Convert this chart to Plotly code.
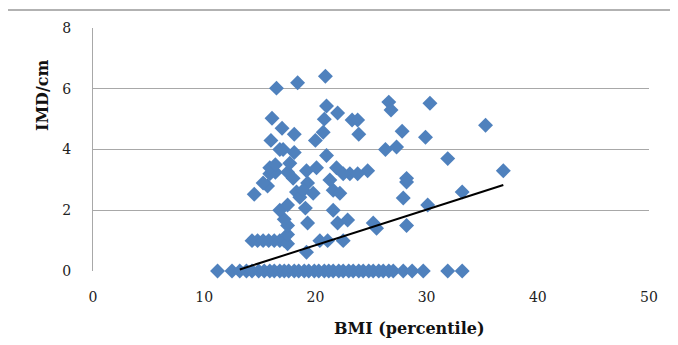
import plotly.graph_objects as go

# y = 0 row
zero_x = [11.2, 12.5, 13.2, 13.8, 14.3, 14.9, 15.4, 15.9, 16.3, 16.8, 17.2, 17.6, 18.1, 18.5,
          19.0, 19.4, 19.9, 20.3, 20.8, 21.2, 21.6, 22.1, 22.5, 23.0, 23.4, 23.9, 24.3, 24.8,
          25.2, 25.7, 26.1, 26.6, 27.0, 27.9, 28.7, 29.7, 31.9, 33.2]
zero_y = [0.0] * len(zero_x)

# y ~ 1 row
one_x = [14.3, 14.8, 15.3, 15.8, 16.3, 16.8, 17.2, 17.5, 20.4, 21.1, 22.5, 19.2]
one_y = [1.0, 1.0, 1.0, 1.0, 1.0, 1.0, 1.0, 0.9, 1.0, 1.0, 1.0, 0.62]

# remaining points
other_x = [17.5, 17.5, 17.2, 16.8, 17.5, 14.5, 15.7, 15.3, 15.9, 16.4, 17.5, 18.0, 18.3, 18.6,
           19.3, 18.9, 19.8, 21.6, 22.2, 19.1, 21.6, 22.0, 22.9, 25.2, 25.5, 27.9, 28.2, 19.3,
           30.1, 33.2, 36.9, 28.2, 19.2, 20.1, 21.9, 23.1, 24.7, 21.3, 22.5, 23.8, 15.9, 16.4,
           17.7, 16.8, 18.1, 16.0, 17.0, 18.1, 16.1, 16.5, 18.4, 20.9, 21.0, 22.0, 20.8, 23.3,
           23.8, 20.7, 20.0, 23.9, 26.6, 26.8, 27.8, 26.3, 27.3, 21.0, 30.3, 35.3, 29.9, 31.9,
           28.2, 17.1]
other_y = [1.2, 1.5, 1.7, 2.0, 2.17, 2.53, 2.8, 2.9, 3.2, 3.25, 3.25, 3.05, 2.6, 2.43,
           2.9, 2.66, 2.56, 2.66, 2.56, 2.07, 2.0, 1.58, 1.68, 1.58, 1.41, 2.4, 2.93, 1.58,
           2.17, 2.6, 3.3, 1.5, 3.3, 3.4, 3.4, 3.2, 3.3, 3.0, 3.2, 3.2, 3.4, 3.5,
           3.55, 4.0, 3.9, 4.3, 4.7, 4.5, 5.03, 6.02, 6.2, 6.41, 5.43, 5.2, 5.0, 4.97,
           4.97, 4.57, 4.3, 4.5, 5.56, 5.3, 4.6, 4.0, 4.08, 3.8, 5.52, 4.8, 4.4, 3.7,
           3.05, 4.0]

trend_x = [13.2, 36.9]
trend_y = [0.05, 2.83]

x_ticks = [0, 10, 20, 30, 40, 50]
y_ticks = [0, 2, 4, 6, 8]

xs = zero_x + one_x + other_x
ys = zero_y + one_y + other_y

fig = go.Figure()
fig.add_trace(go.Scatter(
    x=xs, y=ys, mode="markers",
    marker=dict(symbol="diamond", size=11.5, color="#4F81BD", line=dict(width=0)),
    showlegend=False, cliponaxis=False))
fig.add_trace(go.Scatter(
    x=trend_x, y=trend_y, mode="lines",
    line=dict(color="black", width=2), showlegend=False))

tick_font = dict(family="DejaVu Serif", size=14, color="#222")
fig.update_xaxes(range=[0, 50], tickvals=x_ticks, showgrid=False, zeroline=False,
                 showline=False, ticks="outside", ticklen=13, tickcolor="rgba(0,0,0,0)",
                 tickfont=tick_font, fixedrange=True)
fig.update_yaxes(range=[0, 8], tickvals=y_ticks, showgrid=True, gridcolor="#A8A8A8",
                 gridwidth=1, zeroline=False, showline=True, linecolor="#A8A8A8",
                 ticks="outside", ticklen=18, tickcolor="rgba(0,0,0,0)",
                 tickfont=tick_font, fixedrange=True)

# page body adds an 8px margin, so the figure is shrunk by that much
fig.update_layout(
    width=670, height=337,
    margin=dict(l=85, r=29, t=20, b=74),
    paper_bgcolor="white", plot_bgcolor="white",
    annotations=[
        dict(text="<b>IMD/cm</b>", xref="paper", yref="paper", x=-0.0917, y=0.724,
             textangle=-90, showarrow=False, xanchor="center", yanchor="middle",
             font=dict(family="DejaVu Serif", size=16, color="#111")),
        dict(text="<b>BMI (percentile)</b>", xref="paper", yref="paper", x=0.57, y=-0.235,
             showarrow=False, xanchor="center", yanchor="middle",
             font=dict(family="DejaVu Serif", size=16, color="#111")),
    ],
    shapes=[
        dict(type="rect", xref="paper", yref="paper", x0=-0.1547, x1=1.0504,
             y0=-0.5, y1=1.074, line=dict(color="#999", width=1.5), layer="below"),
    ],
)

fig.write_html("out.html")
